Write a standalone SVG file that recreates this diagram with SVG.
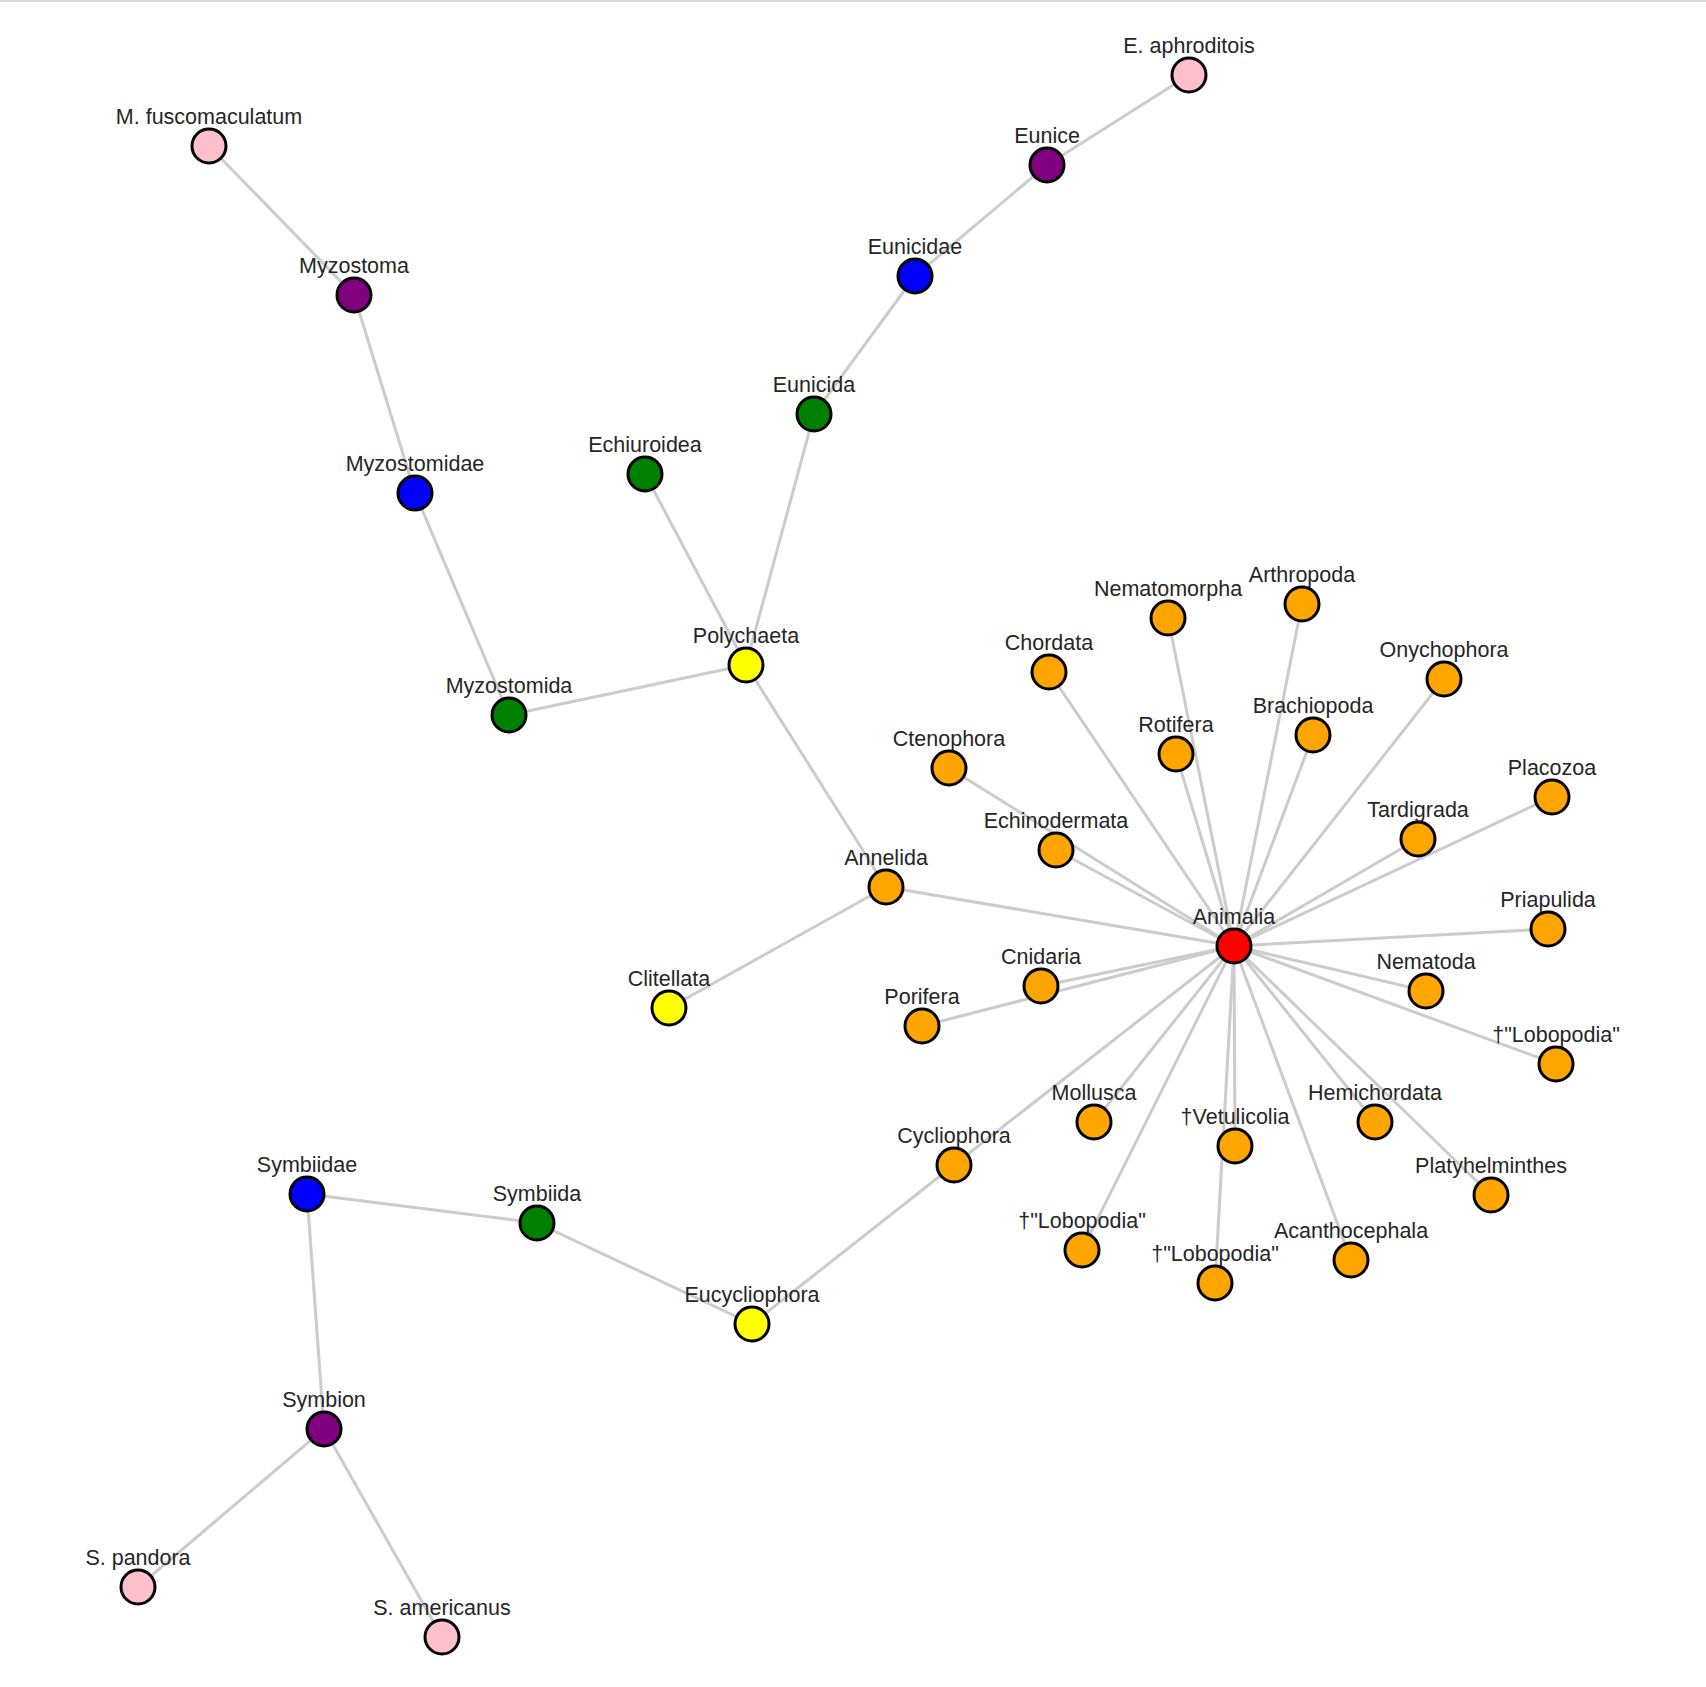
<svg xmlns="http://www.w3.org/2000/svg" width="1706" height="1687" viewBox="0 0 1706 1687">
<style>
.e{stroke:#cccccc;stroke-width:3;fill:none}
.n circle{stroke:#000;stroke-width:3}
.n text{font-family:"Liberation Sans",Arial,sans-serif;font-size:21.5px;fill:#262626;text-anchor:middle}
.pk{fill:#ffc0cb}.pu{fill:#800080}.bl{fill:#0000ff}.gr{fill:#008000}.ye{fill:#ffff00}.or{fill:#ffa500}.rd{fill:#ff0000}
</style>
<rect x="0" y="0" width="1706" height="1687" fill="#fff"/>
<rect x="0" y="0" width="1706" height="2" fill="#d9d9d9"/>
<g id="connectors">
<line class="e" x1="1189" y1="75" x2="1047" y2="165"/>
<line class="e" x1="1047" y1="165" x2="915" y2="276"/>
<line class="e" x1="915" y1="276" x2="814" y2="414"/>
<line class="e" x1="814" y1="414" x2="746" y2="665"/>
<line class="e" x1="645" y1="474" x2="746" y2="665"/>
<line class="e" x1="746" y1="665" x2="509" y2="715"/>
<line class="e" x1="509" y1="715" x2="415" y2="493"/>
<line class="e" x1="415" y1="493" x2="354" y2="295"/>
<line class="e" x1="354" y1="295" x2="209" y2="146"/>
<line class="e" x1="746" y1="665" x2="886" y2="887"/>
<line class="e" x1="886" y1="887" x2="669" y2="1008"/>
<line class="e" x1="886" y1="887" x2="1234" y2="946"/>
<line class="e" x1="1234" y1="946" x2="949" y2="768"/>
<line class="e" x1="1234" y1="946" x2="1056" y2="850"/>
<line class="e" x1="1234" y1="946" x2="1049" y2="672"/>
<line class="e" x1="1234" y1="946" x2="1168" y2="618"/>
<line class="e" x1="1234" y1="946" x2="1302" y2="604"/>
<line class="e" x1="1234" y1="946" x2="1176" y2="754"/>
<line class="e" x1="1234" y1="946" x2="1313" y2="735"/>
<line class="e" x1="1234" y1="946" x2="1444" y2="679"/>
<line class="e" x1="1234" y1="946" x2="1552" y2="797"/>
<line class="e" x1="1234" y1="946" x2="1418" y2="839"/>
<line class="e" x1="1234" y1="946" x2="1548" y2="929"/>
<line class="e" x1="1234" y1="946" x2="1426" y2="991"/>
<line class="e" x1="1234" y1="946" x2="1556" y2="1064"/>
<line class="e" x1="1234" y1="946" x2="1041" y2="986"/>
<line class="e" x1="1234" y1="946" x2="922" y2="1026"/>
<line class="e" x1="1234" y1="946" x2="1094" y2="1122"/>
<line class="e" x1="1234" y1="946" x2="1375" y2="1122"/>
<line class="e" x1="1234" y1="946" x2="1235" y2="1146"/>
<line class="e" x1="1234" y1="946" x2="954" y2="1165"/>
<line class="e" x1="1234" y1="946" x2="1491" y2="1195"/>
<line class="e" x1="1234" y1="946" x2="1082" y2="1250"/>
<line class="e" x1="1234" y1="946" x2="1215" y2="1283"/>
<line class="e" x1="1234" y1="946" x2="1351" y2="1260"/>
<line class="e" x1="954" y1="1165" x2="752" y2="1324"/>
<line class="e" x1="752" y1="1324" x2="537" y2="1223"/>
<line class="e" x1="537" y1="1223" x2="307" y2="1194"/>
<line class="e" x1="307" y1="1194" x2="324" y2="1429"/>
<line class="e" x1="324" y1="1429" x2="138" y2="1587"/>
<line class="e" x1="324" y1="1429" x2="442" y2="1637"/>
</g>
<g id="n-e-aphroditois" class="n"><circle class="pk" cx="1189" cy="75" r="17"/><text x="1189" y="53">E. aphroditois</text></g>
<g id="n-eunice" class="n"><circle class="pu" cx="1047" cy="165" r="17"/><text x="1047" y="143">Eunice</text></g>
<g id="n-eunicidae" class="n"><circle class="bl" cx="915" cy="276" r="17"/><text x="915" y="254">Eunicidae</text></g>
<g id="n-eunicida" class="n"><circle class="gr" cx="814" cy="414" r="17"/><text x="814" y="392">Eunicida</text></g>
<g id="n-echiuroidea" class="n"><circle class="gr" cx="645" cy="474" r="17"/><text x="645" y="452">Echiuroidea</text></g>
<g id="n-polychaeta" class="n"><circle class="ye" cx="746" cy="665" r="17"/><text x="746" y="643">Polychaeta</text></g>
<g id="n-myzostomida" class="n"><circle class="gr" cx="509" cy="715" r="17"/><text x="509" y="693">Myzostomida</text></g>
<g id="n-myzostomidae" class="n"><circle class="bl" cx="415" cy="493" r="17"/><text x="415" y="471">Myzostomidae</text></g>
<g id="n-myzostoma" class="n"><circle class="pu" cx="354" cy="295" r="17"/><text x="354" y="273">Myzostoma</text></g>
<g id="n-m-fuscomaculatum" class="n"><circle class="pk" cx="209" cy="146" r="17"/><text x="209" y="124">M. fuscomaculatum</text></g>
<g id="n-annelida" class="n"><circle class="or" cx="886" cy="887" r="17"/><text x="886" y="865">Annelida</text></g>
<g id="n-clitellata" class="n"><circle class="ye" cx="669" cy="1008" r="17"/><text x="669" y="986">Clitellata</text></g>
<g id="n-ctenophora" class="n"><circle class="or" cx="949" cy="768" r="17"/><text x="949" y="746">Ctenophora</text></g>
<g id="n-echinodermata" class="n"><circle class="or" cx="1056" cy="850" r="17"/><text x="1056" y="828">Echinodermata</text></g>
<g id="n-chordata" class="n"><circle class="or" cx="1049" cy="672" r="17"/><text x="1049" y="650">Chordata</text></g>
<g id="n-nematomorpha" class="n"><circle class="or" cx="1168" cy="618" r="17"/><text x="1168" y="596">Nematomorpha</text></g>
<g id="n-arthropoda" class="n"><circle class="or" cx="1302" cy="604" r="17"/><text x="1302" y="582">Arthropoda</text></g>
<g id="n-rotifera" class="n"><circle class="or" cx="1176" cy="754" r="17"/><text x="1176" y="732">Rotifera</text></g>
<g id="n-brachiopoda" class="n"><circle class="or" cx="1313" cy="735" r="17"/><text x="1313" y="713">Brachiopoda</text></g>
<g id="n-onychophora" class="n"><circle class="or" cx="1444" cy="679" r="17"/><text x="1444" y="657">Onychophora</text></g>
<g id="n-placozoa" class="n"><circle class="or" cx="1552" cy="797" r="17"/><text x="1552" y="775">Placozoa</text></g>
<g id="n-tardigrada" class="n"><circle class="or" cx="1418" cy="839" r="17"/><text x="1418" y="817">Tardigrada</text></g>
<g id="n-priapulida" class="n"><circle class="or" cx="1548" cy="929" r="17"/><text x="1548" y="907">Priapulida</text></g>
<g id="n-nematoda" class="n"><circle class="or" cx="1426" cy="991" r="17"/><text x="1426" y="969">Nematoda</text></g>
<g id="n-lobopodia-1" class="n"><circle class="or" cx="1556" cy="1064" r="17"/><text x="1556" y="1042">†"Lobopodia"</text></g>
<g id="n-cnidaria" class="n"><circle class="or" cx="1041" cy="986" r="17"/><text x="1041" y="964">Cnidaria</text></g>
<g id="n-porifera" class="n"><circle class="or" cx="922" cy="1026" r="17"/><text x="922" y="1004">Porifera</text></g>
<g id="n-mollusca" class="n"><circle class="or" cx="1094" cy="1122" r="17"/><text x="1094" y="1100">Mollusca</text></g>
<g id="n-hemichordata" class="n"><circle class="or" cx="1375" cy="1122" r="17"/><text x="1375" y="1100">Hemichordata</text></g>
<g id="n-vetulicolia" class="n"><circle class="or" cx="1235" cy="1146" r="17"/><text x="1235" y="1124">†Vetulicolia</text></g>
<g id="n-cycliophora" class="n"><circle class="or" cx="954" cy="1165" r="17"/><text x="954" y="1143">Cycliophora</text></g>
<g id="n-platyhelminthes" class="n"><circle class="or" cx="1491" cy="1195" r="17"/><text x="1491" y="1173">Platyhelminthes</text></g>
<g id="n-lobopodia-2" class="n"><circle class="or" cx="1082" cy="1250" r="17"/><text x="1082" y="1228">†"Lobopodia"</text></g>
<g id="n-lobopodia-3" class="n"><circle class="or" cx="1215" cy="1283" r="17"/><text x="1215" y="1261">†"Lobopodia"</text></g>
<g id="n-acanthocephala" class="n"><circle class="or" cx="1351" cy="1260" r="17"/><text x="1351" y="1238">Acanthocephala</text></g>
<g id="n-animalia" class="n"><circle class="rd" cx="1234" cy="946" r="17"/><text x="1234" y="924">Animalia</text></g>
<g id="n-eucycliophora" class="n"><circle class="ye" cx="752" cy="1324" r="17"/><text x="752" y="1302">Eucycliophora</text></g>
<g id="n-symbiida" class="n"><circle class="gr" cx="537" cy="1223" r="17"/><text x="537" y="1201">Symbiida</text></g>
<g id="n-symbiidae" class="n"><circle class="bl" cx="307" cy="1194" r="17"/><text x="307" y="1172">Symbiidae</text></g>
<g id="n-symbion" class="n"><circle class="pu" cx="324" cy="1429" r="17"/><text x="324" y="1407">Symbion</text></g>
<g id="n-s-pandora" class="n"><circle class="pk" cx="138" cy="1587" r="17"/><text x="138" y="1565">S. pandora</text></g>
<g id="n-s-americanus" class="n"><circle class="pk" cx="442" cy="1637" r="17"/><text x="442" y="1615">S. americanus</text></g>
</svg>
